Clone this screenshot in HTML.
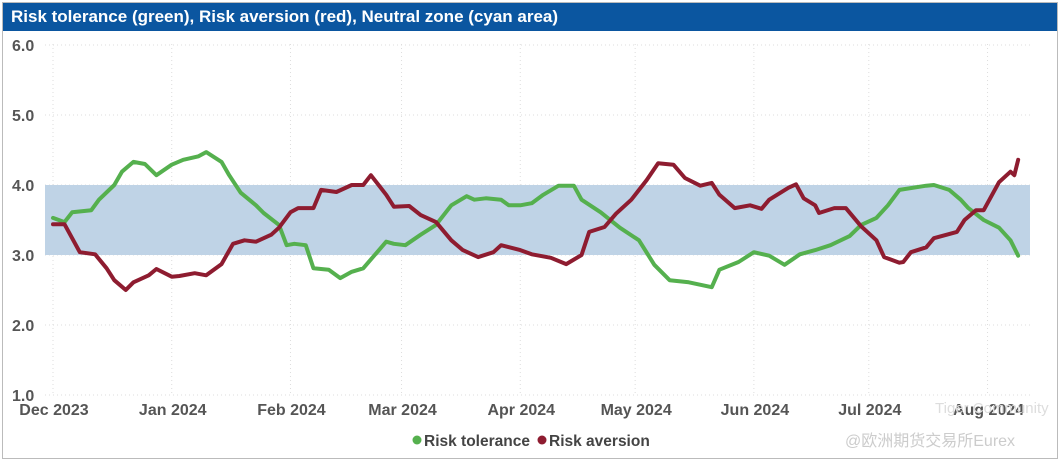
<!DOCTYPE html>
<html><head><meta charset="utf-8"><style>
body{margin:0;width:1064px;height:464px;background:#fff;font-family:"Liberation Sans","Noto Sans CJK SC",sans-serif;overflow:hidden}
#frame{position:absolute;left:2px;top:2px;width:1056px;height:457px;border:1px solid #bbb;box-sizing:border-box}
#title{position:absolute;left:3px;top:3px;width:1054px;height:28px;background:#0b56a0;color:#fff;font-weight:bold;font-size:17px;line-height:28px;padding-left:8px;box-sizing:border-box}
svg{position:absolute;left:0;top:0}
</style></head><body>
<div id="frame"></div>
<div id="title">Risk tolerance (green), Risk aversion (red), Neutral zone (cyan area)</div>
<svg id="chart" width="1064" height="464"></svg>
<script>
const monthLabels=["Dec 2023","Jan 2024","Feb 2024","Mar 2024","Apr 2024","May 2024","Jun 2024","Jul 2024","Aug 2024"];
const monthDays=[0,31,62,91,122,152,183,213,244];
const yTicks=[1,2,3,4,5,6];
const bandRange=[3,4];
const greenDays=[0,3,5,10,12,16,18,21,24,27,31,34,38,40,44,46,49,53,55,59,61,63,66,68,72,75,78,81,84,87,89,92,96,100,104,108,110,113,117,119,122,125,128,132,136,138,143,148,153,157,161,166,172,174,179,183,187,191,195,199,203,208,211,215,218,221,228,230,234,237,239,243,247,250,252];
const greenVals=[3.53,3.47,3.61,3.64,3.79,4.0,4.19,4.33,4.3,4.14,4.29,4.36,4.41,4.47,4.33,4.14,3.89,3.71,3.6,3.43,3.14,3.16,3.14,2.81,2.79,2.67,2.76,2.81,3.0,3.19,3.16,3.14,3.29,3.43,3.71,3.84,3.79,3.81,3.79,3.71,3.71,3.74,3.86,3.99,3.99,3.79,3.61,3.39,3.21,2.86,2.64,2.61,2.54,2.79,2.9,3.04,2.99,2.86,3.01,3.07,3.14,3.27,3.43,3.53,3.71,3.93,3.99,4.0,3.93,3.79,3.67,3.5,3.39,3.21,2.99];
const redDays=[0,3,5,7,11,14,16,19,21,25,27,31,33,37,40,44,47,50,53,57,59,62,64,68,70,74,78,81,83,87,89,93,96,100,104,107,111,115,117,122,125,130,134,138,140,144,147,151,155,158,162,165,169,172,174,178,182,185,187,192,194,196,199,200,204,207,211,215,217,221,222,224,228,230,236,238,241,243,245,247,250,251,252];
const redVals=[3.44,3.44,3.24,3.04,3.01,2.81,2.64,2.5,2.61,2.71,2.8,2.69,2.7,2.74,2.71,2.87,3.16,3.21,3.19,3.29,3.39,3.61,3.67,3.67,3.93,3.9,4.0,4.0,4.14,3.86,3.69,3.7,3.57,3.47,3.21,3.07,2.97,3.04,3.14,3.07,3.01,2.96,2.87,3.0,3.33,3.4,3.59,3.79,4.07,4.31,4.29,4.1,3.99,4.03,3.86,3.67,3.71,3.66,3.79,3.96,4.01,3.81,3.71,3.6,3.67,3.67,3.41,3.21,2.97,2.89,2.9,3.04,3.11,3.24,3.33,3.5,3.64,3.64,3.84,4.04,4.19,4.14,4.36];
const NS="http://www.w3.org/2000/svg";
const svg=document.getElementById('chart');
const xS=d=>53+d*3.83;
const yS=v=>185-(v-4)*70;
function mk(t,a){const e=document.createElementNS(NS,t);for(const k in a)e.setAttribute(k,a[k]);svg.appendChild(e);return e;}
yTicks.forEach(v=>{
 const g=mk('line',{x1:45,x2:1030,y1:yS(v),y2:yS(v),stroke:'#ddd','stroke-dasharray':'1 3'});
 
 
 const t=mk('text',{x:12,y:yS(v)+6,'font-size':'16','font-weight':'bold',fill:'#555'});
 t.textContent=v.toFixed(1);
 
 
});
monthDays.forEach((d,i)=>{
 const g=mk('line',{x1:xS(d),x2:xS(d),y1:44,y2:395,stroke:'#ddd','stroke-dasharray':'1 3'});
 
 
 const t=mk('text',{x:xS(d)+1,y:415,'font-size':'16','font-weight':'bold',fill:'#555','text-anchor':'middle'});
 t.textContent=monthLabels[i];
 
 
});
const band=mk('rect',{x:45,y:yS(bandRange[1]),width:985,height:yS(bandRange[0])-yS(bandRange[1]),fill:'#bfd3e6'});


function line(days,vals,color,name){
 const p=mk('polyline',{points:days.map((d,i)=>xS(d)+','+yS(vals[i])).join(' '),fill:'none',stroke:color,'stroke-width':4,'stroke-linejoin':'round','stroke-linecap':'round'});
 
 
}
line(greenDays,greenVals,'#55b04e','risk-tolerance-line');
line(redDays,redVals,'#8e1c30','risk-aversion-line');
const lg=[['#55b04e','Risk tolerance',413],['#8e1c30','Risk aversion',538]];
lg.forEach(l=>{
 const c=mk('circle',{cx:l[2]+4,cy:440,r:4.5,fill:l[0]});
 
 
 const t=mk('text',{x:l[2]+11,y:446,'font-size':'15.5','font-weight':'bold',fill:'#444'});
 t.textContent=l[1];
 
 
});
const w1=mk('text',{x:935,y:413,'font-size':'15',fill:'#ddd'});
w1.textContent='Tiger Community';


const w2=mk('text',{x:845,y:446,'font-size':'16',fill:'#ccc'});
w2.textContent='@欧洲期货交易所Eurex';


</script>
</body></html>
